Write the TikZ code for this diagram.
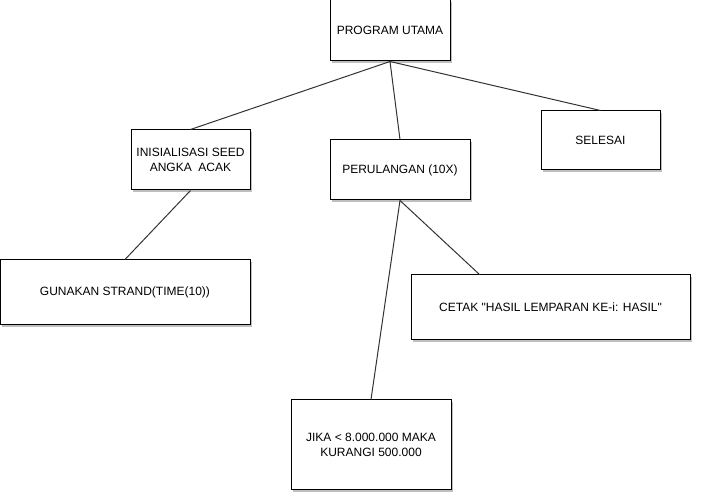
\documentclass[tikz,border=0pt]{standalone}
\usepackage{fontspec}
\setmainfont{Liberation Sans}
\newfontfamily\boxfont{Liberation Sans}
\usetikzlibrary{shadows}
\begin{document}
\begin{tikzpicture}[x=1pt,y=-1pt,
  box/.style={draw=black,line width=1pt,fill=white,inner sep=0pt,align=center,
    font=\boxfont\fontsize{12}{15}\selectfont,
    drop shadow={shadow xshift=2pt,shadow yshift=-2pt,opacity=0.25,fill=black}},
  link/.style={draw=black!80,line width=1pt}]
\useasboundingbox (0,0) rectangle (702,502);
\node[box,minimum width=120pt,minimum height=61pt] (main) at (390,30.5) {PROGRAM UTAMA};
\node[box,minimum width=119pt,minimum height=60pt] (init) at (190.5,160) {INISIALISASI SEED\\ANGKA\ \ ACAK};
\node[box,minimum width=140pt,minimum height=60pt] (loop) at (400,170) {PERULANGAN (10X)};
\node[box,minimum width=119pt,minimum height=59pt] (end) at (600.5,140.5) {SELESAI};
\node[box,minimum width=250pt,minimum height=65pt] (srand) at (125,292.5) {GUNAKAN STRAND(TIME(10))};
\node[box,minimum width=279pt,minimum height=65pt] (print) at (550.5,307.5) {CETAK "HASIL LEMPARAN KE-i: HASIL"};
\node[box,minimum width=160pt,minimum height=90pt] (cond) at (371,445) {JIKA < 8.000.000 MAKA\\KURANGI 500.000};
\draw[link] (main.south) -- (init.north);
\draw[link] (main.south) -- (loop.north);
\draw[link] (main.south) -- (end.north);
\draw[link] (init.south) -- (srand.north);
\draw[link] (loop.south) -- ([xshift=69pt]print.north west);
\draw[link] (loop.south) -- (cond.north);
\end{tikzpicture}
\end{document}
